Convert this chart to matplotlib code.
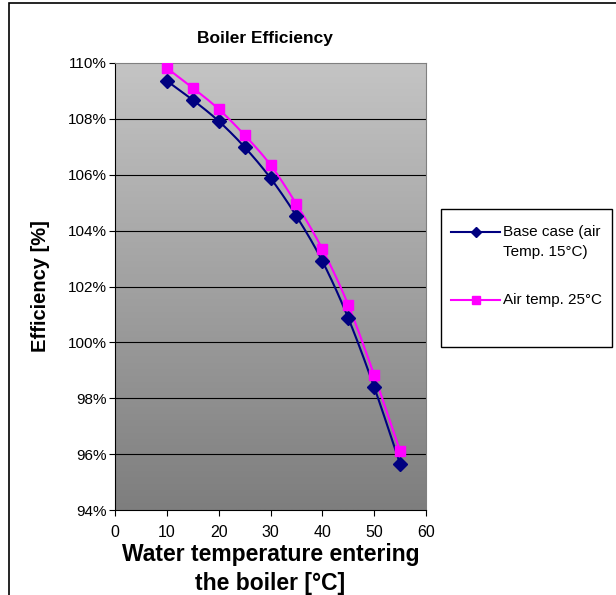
import numpy as np
import matplotlib.pyplot as plt
from matplotlib.patches import Rectangle
from matplotlib.lines import Line2D
from matplotlib.ticker import FuncFormatter

plt.rcParams['font.family'] = ['Liberation Sans', 'DejaVu Sans']

water_temp = [10, 15, 20, 25, 30, 35, 40, 45, 50, 55]
base_case = [109.36, 108.68, 107.92, 106.99, 105.88, 104.52, 102.91, 100.87, 98.40, 95.65]
air_25 = [109.82, 109.11, 108.35, 107.42, 106.35, 104.95, 103.34, 101.34, 98.83, 96.11]
labels = [['Base case (air', 'Temp. 15\u00b0C)'], ['Air temp. 25\u00b0C']]


def smooth(x, y, n=20):
    # catmull-rom curve through the points, like excel's smoothed line
    x = np.asarray(x, float)
    y = np.asarray(y, float)
    px = np.concatenate([[2 * x[0] - x[1]], x, [2 * x[-1] - x[-2]]])
    py = np.concatenate([[2 * y[0] - y[1]], y, [2 * y[-1] - y[-2]]])
    xs, ys = [], []
    t = np.linspace(0, 1, n, endpoint=False)
    for i in range(1, len(px) - 2):
        for p, out in ((px, xs), (py, ys)):
            p0, p1, p2, p3 = p[i - 1], p[i], p[i + 1], p[i + 2]
            out.extend(0.5 * (2 * p1 + (-p0 + p2) * t + (2 * p0 - 5 * p1 + 4 * p2 - p3) * t ** 2
                              + (-p0 + 3 * p1 - 3 * p2 + p3) * t ** 3))
    xs.append(x[-1])
    ys.append(y[-1])
    return xs, ys


W, H = 616, 595
fig = plt.figure(figsize=(W / 100, H / 100), dpi=100)
fig.patches.append(Rectangle((9 / W, -0.01), 1.0, 1 - 3 / H + 0.01, transform=fig.transFigure,
                             fill=False, edgecolor='black', linewidth=1.2))

ax = fig.add_axes([115 / W, 1 - 510 / H, 311 / W, 447 / H])
ax.set_xlim(0, 60)
ax.set_ylim(94, 110)

grad = np.linspace(0, 1, 256).reshape(-1, 1)
ax.imshow(grad, cmap=plt.matplotlib.colors.LinearSegmentedColormap.from_list('g', ['#c4c4c4', '#7e7e7e']),
          extent=[0, 60, 94, 110], aspect='auto', origin='upper', zorder=0)

for v in range(96, 110, 2):
    ax.axhline(v, color='black', linewidth=0.8, zorder=1)

colors = ['#000080', '#ff00ff']
markers = ['D', 's']
sx, sy = smooth(water_temp, base_case)
ax.plot(sx, sy, color=colors[0], linewidth=1.5, zorder=2)
sx, sy = smooth(water_temp, air_25)
ax.plot(sx, sy, color=colors[1], linewidth=1.5, zorder=3)
ax.plot(water_temp, base_case, linestyle='none', marker='D', markersize=7, color=colors[0], zorder=4)
ax.plot(water_temp, air_25, linestyle='none', marker='s', markersize=7.5, color=colors[1], zorder=4)

for s in ['top', 'right']:
    ax.spines[s].set_color('#808080')
for s in ['left', 'bottom']:
    ax.spines[s].set_color('black')

ax.set_xticks(range(0, 61, 10))
ax.set_yticks(range(94, 111, 2))
ax.yaxis.set_major_formatter(FuncFormatter(lambda v, p: '%d%%' % v))
ax.tick_params(direction='out', length=4, width=0.8, pad=2)
ax.tick_params(axis='y', labelsize=11)
ax.tick_params(axis='x', labelsize=11.5, pad=7)

fig.text(265 / W, 1 - 38 / H, 'Boiler Efficiency', fontsize=12.5, fontweight='bold',
         ha='center', va='center')
ax.set_xlabel('Water temperature entering\nthe boiler [\u00b0C]', fontsize=16.5, fontweight='bold',
              linespacing=1.35, labelpad=2)
ax.set_ylabel('Efficiency [%]', fontsize=14.5, fontweight='bold', labelpad=13)

# legend box drawn by hand, like excel's
fig.patches.append(Rectangle((441 / W, 1 - 347 / H), 171 / W, 138 / H, transform=fig.transFigure,
                             facecolor='white', edgecolor='black', linewidth=1.0))
rows = [232, 300]
for i in range(2):
    y = 1 - rows[i] / H
    fig.add_artist(Line2D([451 / W, 500 / W], [y, y], color=colors[i], linewidth=1.5))
    fig.add_artist(Line2D([475.5 / W], [y], color=colors[i], marker=markers[i],
                          markersize=5.5 if i else 5))
    for j, line in enumerate(labels[i]):
        fig.text(503 / W, 1 - (rows[i] + 20 * j) / H, line, fontsize=11, va='center', ha='left')

fig.savefig('out.png', dpi=100)
